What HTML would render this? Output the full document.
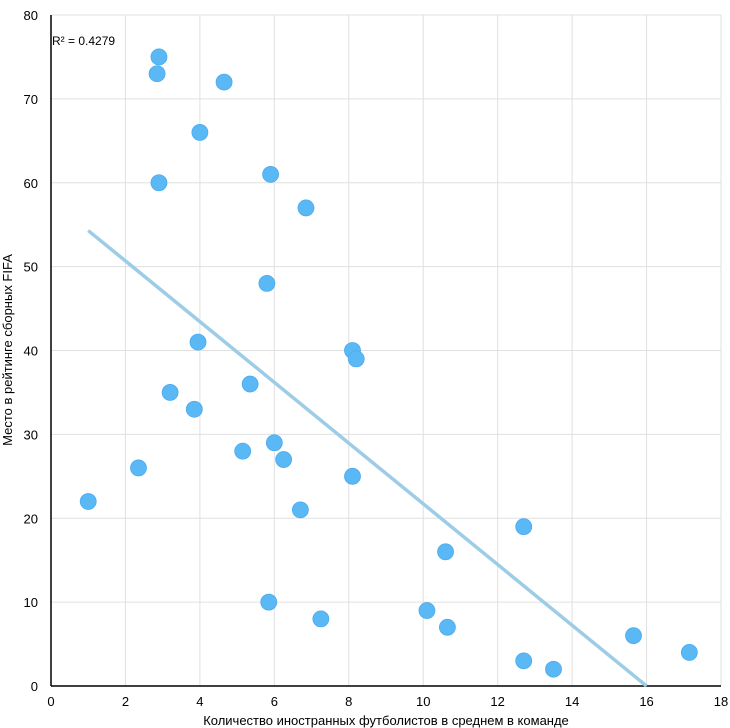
<!DOCTYPE html>
<html><head><meta charset="utf-8"><style>
body{margin:0;background:#fff;}
svg{display:block;font-family:"Liberation Sans","Noto Sans CJK SC",sans-serif;}
</style></head><body>
<svg id="chart" width="730" height="728"></svg>
<script>
const xTicks=[0,2,4,6,8,10,12,14,16,18];
const yTicks=[0,10,20,30,40,50,60,70,80];
const xValues=[1,2.35,2.85,2.9,2.9,3.2,3.85,3.95,4,4.65,5.15,5.35,5.8,5.85,5.9,6,6.25,6.7,6.85,7.25,8.1,8.1,8.2,10.1,10.6,10.65,12.7,12.7,13.5,15.65,17.15];
const yValues=[22,26,73,75,60,35,33,41,66,72,28,36,48,10,61,29,27,21,57,8,40,25,39,9,16,7,19,3,2,6,4];
const trendX=[1,16];
const trendY=[54.3,0];
const rSquared="R² = 0.4279";
const svg=document.getElementById('chart');
const NS='http://www.w3.org/2000/svg';
const X0=51,X1=721,Y0=686,Y1=15;
const sx=v=>X0+(v-0)/(18-0)*(X1-X0);
const sy=v=>Y0-(v-0)/(80-0)*(Y0-Y1);
function mk(t,a,parent){const e=document.createElementNS(NS,t);for(const k in a)e.setAttribute(k,a[k]);(parent||svg).appendChild(e);return e;}
const grid=mk('g',{});


xTicks.forEach(t=>{if(t>0)mk('line',{x1:sx(t),x2:sx(t),y1:Y1,y2:Y0,stroke:'#e0e0e0','stroke-width':1},grid);});
yTicks.forEach(t=>{if(t>0)mk('line',{x1:X0,x2:X1,y1:sy(t),y2:sy(t),stroke:'#e0e0e0','stroke-width':1},grid);});
xTicks.forEach(t=>{const e=mk('text',{x:sx(t),y:706,'text-anchor':'middle','font-size':13,fill:'#000'});e.textContent=t;

});
yTicks.forEach(t=>{const e=mk('text',{x:38,y:sy(t)+5,'text-anchor':'end','font-size':13,fill:'#000'});e.textContent=t;

});
const ax=mk('line',{x1:X0,x2:X0,y1:Y1,y2:Y0,stroke:'#000','stroke-width':1.5});


const axx=mk('line',{x1:X0,x2:X1,y1:Y0,y2:Y0,stroke:'#000','stroke-width':1.5});


xValues.forEach((xv,i)=>{const c=mk('circle',{cx:sx(xv),cy:sy(yValues[i]),r:8,fill:'#5ab9f5',stroke:'#4aaaf0','stroke-width':0.8});

});
const tl=mk('line',{x1:sx(trendX[0]),y1:sy(trendY[0]),x2:sx(trendX[1]),y2:sy(trendY[1]),stroke:'#9dcde6','stroke-width':3.5});


const r2=mk('text',{x:52,y:45,'font-size':12,fill:'#000'});r2.textContent=rSquared;


const xt=mk('text',{x:386,y:725,'text-anchor':'middle','font-size':13,fill:'#000'});xt.textContent='Количество иностранных футболистов в среднем в команде';


const yt=mk('text',{x:12,y:350,'text-anchor':'middle','font-size':13,fill:'#000',transform:'rotate(-90 12 350)'});yt.textContent='Место в рейтинге сборных FIFA';


</script>
</body></html>
